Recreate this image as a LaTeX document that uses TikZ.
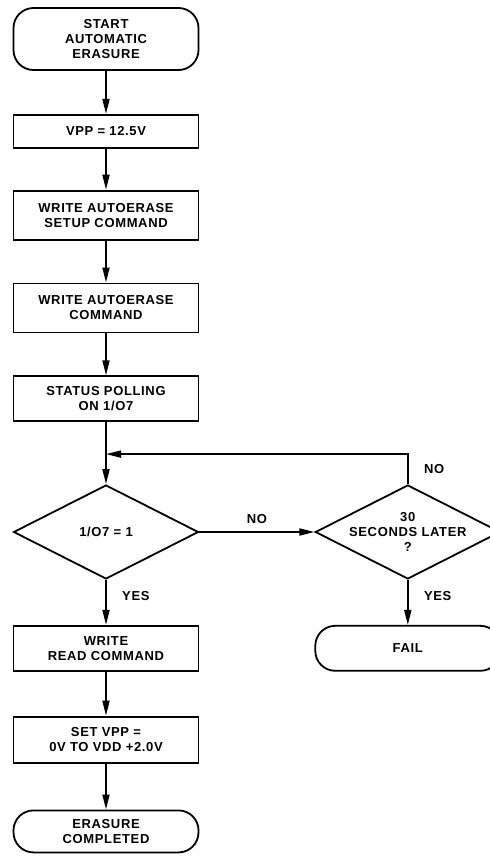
\documentclass[tikz,border=0pt]{standalone}
\usepackage{fontspec}
\setmainfont{Liberation Sans}[LetterSpace=5]
\usetikzlibrary{arrows.meta, positioning, shapes.geometric}

\begin{document}
\begin{tikzpicture}[
    every node/.style={font=\fontsize{13}{15}\selectfont\bfseries},
    box/.style={rectangle, draw, line width=1.8pt, minimum width=185pt,
                align=center, inner sep=2pt},
    term/.style={rectangle, rounded corners=20pt, draw, line width=1.8pt,
                 minimum width=185pt, align=center, inner sep=2pt},
    test/.style={diamond, draw, line width=1.8pt, aspect=2, inner sep=-8pt,
                 minimum width=185pt, minimum height=94pt, align=center},
    arr/.style={-{Triangle[length=15pt, width=7pt]}, line width=1.8pt},
    lbl/.style={font=\fontsize{13}{15}\selectfont\bfseries}
  ]
    \useasboundingbox (0,0) rectangle (490pt,-857pt);

    \node[term, minimum height=62pt] (start) at (106pt,-39pt)
        {START\\AUTOMATIC\\ERASURE};
    \node[box, minimum height=33pt, below=43pt of start] (vpp)    {VPP = 12.5V};
    \node[box, minimum height=49pt, below=41pt of vpp]   (setup)  {WRITE AUTOERASE\\SETUP COMMAND};
    \node[box, minimum height=49pt, below=42pt of setup] (erase)  {WRITE AUTOERASE\\COMMAND};
    \node[box, minimum height=45pt, below=42pt of erase] (poll)   {STATUS POLLING\\ON 1/O7};
    \coordinate[below=32pt of poll.south] (join);
    \node[test, below=62pt of poll]                      (bit)    {1/O7 = 1};
    \node[test, right=115pt of bit]                      (timer)  {30\\SECONDS LATER\\?};
    \node[box, minimum height=45pt, below=45pt of bit]   (read)   {WRITE\\READ COMMAND};
    \node[box, minimum height=46pt, below=44pt of read]  (setvpp) {SET VPP =\\0V TO VDD +2.0V};
    \node[term, minimum height=42pt, below=46pt of setvpp] (done) {ERASURE\\COMPLETED};
    \node[term, minimum height=45pt, below=45pt of timer] (fail)  {FAIL};

    \draw[arr] (start) -- (vpp);
    \draw[arr] (vpp)   -- (setup);
    \draw[arr] (setup) -- (erase);
    \draw[arr] (erase) -- (poll);
    \draw[line width=1.8pt] (poll) -- (join);
    \draw[arr] (join) -- (bit);
    \draw[arr] (bit) -- node[lbl, above=4pt] {NO} (timer);
    \draw[arr] (timer.north) |- node[lbl, pos=0.25, right=12pt] {NO} (join);
    \draw[arr] (bit) -- node[lbl, pos=0.35, right=12pt] {YES} (read);
    \draw[arr] (timer) -- node[lbl, pos=0.35, right=12pt] {YES} (fail);
    \draw[arr] (read) -- (setvpp);
    \draw[arr] (setvpp) -- (done);
  \end{tikzpicture}
\end{document}
